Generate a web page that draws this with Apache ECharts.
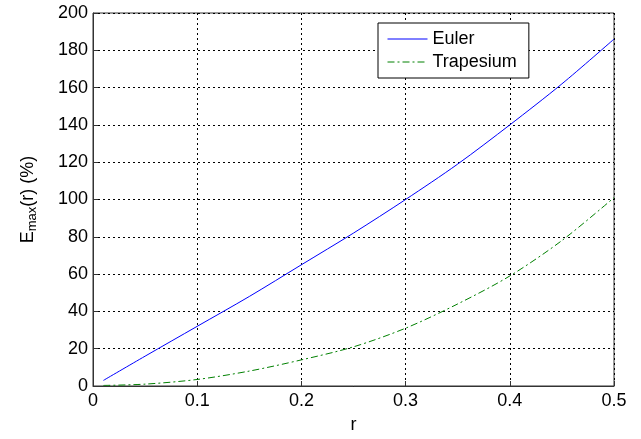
<!DOCTYPE html>
<html><head><meta charset="utf-8">
<script src="https://cdn.jsdelivr.net/npm/echarts@6/dist/echarts.min.js"></script>
<style>html,body{margin:0;padding:0;background:#fff}#c{width:641px;height:439px}</style>
</head><body><div id="c"></div>
<script>
const rValues = [0.01, 0.05, 0.1, 0.15, 0.2, 0.25, 0.3, 0.35, 0.4, 0.45, 0.5];
const eulerValues = [3, 16, 32, 48, 65, 82, 100, 119, 140, 162, 186];
const trapesiumValues = [0.3, 1, 3.5, 8, 14, 21, 31, 44, 59, 78, 101];
const seriesNames = ['Euler', 'Trapesium'];
const xTicks = [0, 0.1, 0.2, 0.3, 0.4, 0.5];
const yTicks = [0, 20, 40, 60, 80, 100, 120, 140, 160, 180, 200];

const chart = echarts.init(document.getElementById('c'), null, {renderer: 'canvas'});
const font = 'Liberation Sans, Arial, sans-serif';
const gridLine = {show: true, lineStyle: {color: '#000', type: [2, 3], width: 1}};
chart.setOption({
  animation: false,
  backgroundColor: '#fff',
  grid: {left: 93, right: 27, top: 13, bottom: 47, show: true, borderColor: '#333', borderWidth: 1},
  legend: {
    data: seriesNames, orient: 'vertical', left: 378, top: 23,
    padding: [7, 12, 7, 9], itemGap: 5, itemWidth: 40, itemHeight: 14,
    backgroundColor: '#fff', borderColor: '#000', borderWidth: 1,
    lineStyle: {width: 1},
    itemStyle: {opacity: 0},
    textStyle: {fontFamily: font, fontSize: 18, color: '#000'}
  },
  xAxis: {
    type: 'value', min: 0, max: 0.5, interval: 0.1,
    name: 'r', nameLocation: 'middle', nameGap: 30,
    nameTextStyle: {fontFamily: font, fontSize: 18, color: '#000'},
    axisLine: {show: true, lineStyle: {color: '#333'}},
    axisTick: {show: true, inside: true, length: 5, lineStyle: {color: '#333'}},
    axisLabel: {fontFamily: font, fontSize: 18, color: '#000', margin: 6,
      formatter: v => xTicks.includes(+v.toFixed(2)) ? String(+v.toFixed(2)) : ''},
    splitLine: gridLine
  },
  yAxis: {
    type: 'value', min: 0, max: 200, interval: 20,
    name: 'E{sub|max}(r) (%)', nameLocation: 'middle', nameGap: 54, nameRotate: 90,
    nameTextStyle: {fontFamily: font, fontSize: 18, color: '#000',
      rich: {sub: {fontFamily: font, fontSize: 13, color: '#000', verticalAlign: 'bottom', padding: [9, 0, 0, 0]}}},
    axisLine: {show: true, lineStyle: {color: '#333'}},
    axisTick: {show: true, inside: true, length: 5, lineStyle: {color: '#333'}},
    axisLabel: {fontFamily: font, fontSize: 18, color: '#000', margin: 5,
      formatter: v => yTicks.includes(v) ? String(v) : ''},
    splitLine: gridLine
  },
  series: [
    {name: seriesNames[0], type: 'line', data: rValues.map((r, i) => [r, eulerValues[i]]),
      symbol: 'none', smooth: 0.3, lineStyle: {color: '#0000ff', width: 1}, itemStyle: {color: '#0000ff'}},
    {name: seriesNames[1], type: 'line', data: rValues.map((r, i) => [r, trapesiumValues[i]]),
      symbol: 'none', smooth: 0.3, lineStyle: {color: '#008000', width: 1, type: [7, 3, 2, 3]}, itemStyle: {color: '#008000'}}
  ]
});
</script></body></html>
